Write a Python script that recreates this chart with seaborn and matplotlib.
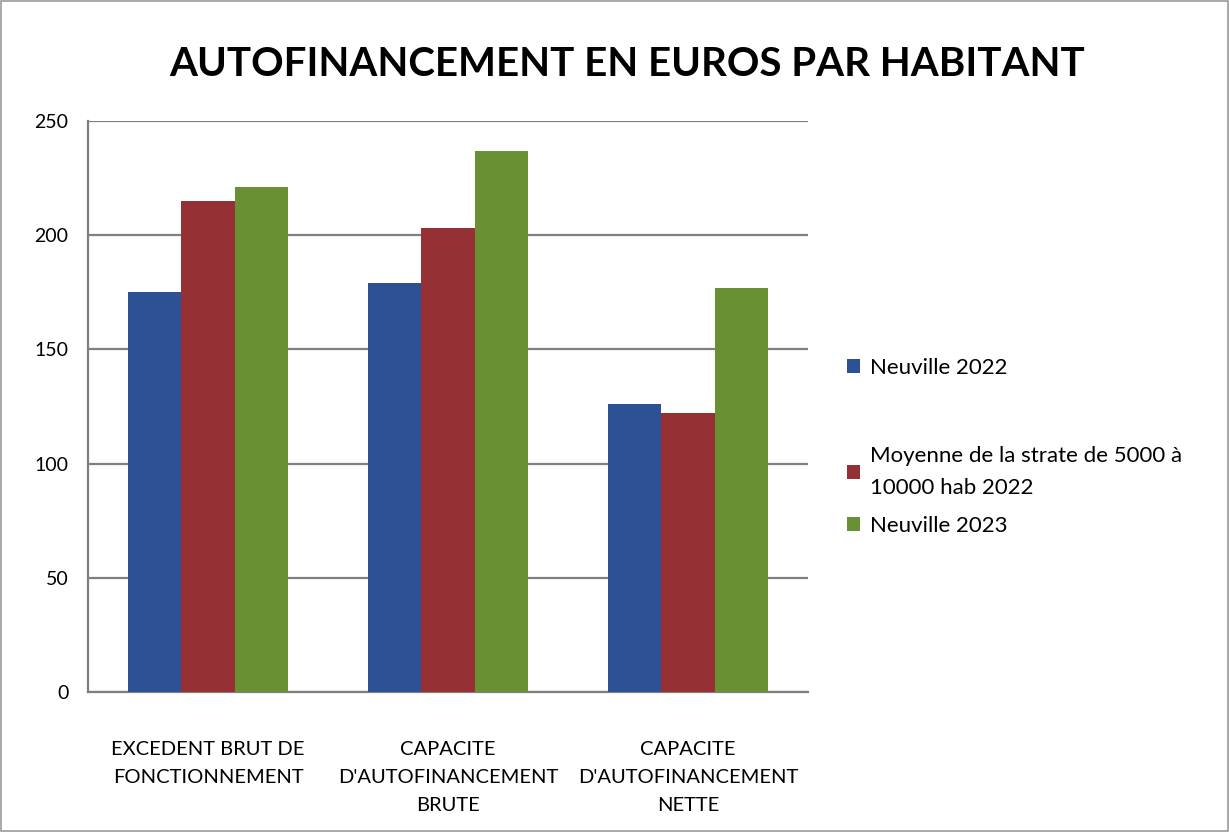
import pandas
import seaborn as sns
from matplotlib import pyplot as plt
from matplotlib.patches import Rectangle, Patch

categories = [
    "EXCEDENT BRUT DE\nFONCTIONNEMENT",
    "CAPACITE\nD'AUTOFINANCEMENT\nBRUTE",
    "CAPACITE\nD'AUTOFINANCEMENT\nNETTE",
]
series = [
    "Neuville 2022",
    "Moyenne de la strate de 5000 à\n10000 hab 2022",
    "Neuville 2023",
]
neuville_2022 = [175, 179, 126]
moyenne_strate_2022 = [215, 203, 122]
neuville_2023 = [221, 237, 177]
colors = ["#2D5195", "#953134", "#699133"]

rows = []
for name, values in zip(series, [neuville_2022, moyenne_strate_2022, neuville_2023]):
    for cat, v in zip(categories, values):
        rows.append({"categorie": cat, "serie": name, "valeur": v})
df = pandas.DataFrame(rows)

sns.set_style("white")
plt.rcParams["font.family"] = ["Lato", "DejaVu Sans"]
plt.rcParams["text.color"] = "black"
plt.rcParams["xtick.labelcolor"] = "black"
plt.rcParams["ytick.labelcolor"] = "black"

fig = plt.figure(figsize=(12.29, 8.32), dpi=100)
ax = fig.add_axes([0.0716, 0.1683, 0.586, 0.6863])

sns.barplot(data=df, x="categorie", y="valeur", hue="serie", order=categories,
            hue_order=series, palette=colors, width=0.667, saturation=1,
            linewidth=0, ax=ax, legend=False, zorder=3)

ax.set_xlim(-0.5, 2.5)
ax.set_ylim(0, 250)
ax.set_yticks([0, 50, 100, 150, 200, 250])
ax.yaxis.grid(True, color="#7f7f7f", linewidth=1.6, zorder=0)
ax.set_axisbelow(True)
ax.set_xlabel("")
ax.set_ylabel("")

for side in ["top", "right"]:
    ax.spines[side].set_visible(False)
for side in ["left", "bottom"]:
    ax.spines[side].set_color("#7f7f7f")
    ax.spines[side].set_linewidth(1.6)

ax.set_xticks([0, 1, 2])
ax.set_xticklabels(categories, fontsize=14.5, linespacing=1.8)
ax.set_xticks([-0.5, 0.5, 1.5, 2.5], minor=True)
ax.tick_params(axis="x", which="major", length=0, pad=35)
ax.tick_params(axis="x", which="minor", length=6, width=1.6, color="#7f7f7f", direction="out")
ax.tick_params(axis="y", which="major", length=6, width=1.6, color="#7f7f7f",
               direction="out", labelsize=14, pad=8)

fig.suptitle("AUTOFINANCEMENT EN EUROS PAR HABITANT", x=0.51, y=0.945,
             fontsize=29, fontweight="bold")

handles = [Patch(facecolor=c, edgecolor="none") for c in colors]
leg_kw = dict(frameon=False, fontsize=16, handlelength=0.6, handleheight=0.6,
              handletextpad=0.45, borderpad=0, loc="center left")
leg1 = fig.legend(handles[:1], series[:1], bbox_to_anchor=(0.68, 0.5577), **leg_kw)
leg2 = fig.legend(handles[1:], series[1:], bbox_to_anchor=(0.68, 0.41),
                  labelspacing=0.8, **leg_kw)
for t in leg2.get_texts():
    t.set_linespacing(1.75)

fig.patches.append(Rectangle((0.001, 0.001), 0.998, 0.998, transform=fig.transFigure,
                             fill=False, edgecolor="#9a9a9a", linewidth=1.2))

fig.savefig("out.png", dpi=100)
